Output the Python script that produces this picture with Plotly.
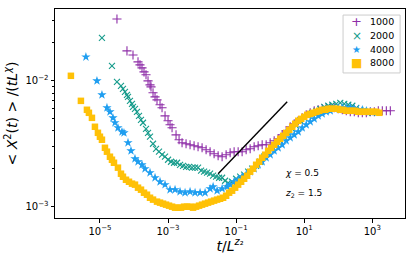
import numpy as np
import plotly.graph_objects as go

# ---- data (log10 of values) ----
logx_1000 = [-4.500, -4.206, -4.029, -3.882, -3.824, -3.765, -3.706, -3.647, -3.588, -3.529,
             -3.500, -3.441, -3.382, -3.324, -3.235, -3.176, -3.088, -3.000, -2.941, -2.882,
             -2.765, -2.676, -2.588, -2.471, -2.353, -2.235, -2.118, -2.000, -1.882, -1.765,
             -1.647, -1.529, -1.412, -1.294, -1.176, -1.059, -0.941, -0.824, -0.706, -0.588,
             -0.471, -0.353, -0.235, -0.118, 0.000, 0.118, 0.235, 0.353, 0.471, 0.588,
             0.706, 0.824, 0.941, 1.059, 1.176, 1.294, 1.412, 1.529, 1.647, 1.765,
             1.882, 2.000, 2.118, 2.235, 2.353, 2.471, 2.588, 2.706, 2.824, 2.941,
             3.059, 3.176, 3.294, 3.412, 3.529]
logy_1000 = [-1.508, -1.762, -1.794, -1.849, -1.873, -1.897, -1.929, -1.952, -2.000, -2.032,
             -2.048, -2.095, -2.127, -2.151, -2.190, -2.214, -2.278, -2.317, -2.349, -2.373,
             -2.429, -2.468, -2.492, -2.500, -2.508, -2.516, -2.524, -2.532, -2.548, -2.563,
             -2.579, -2.595, -2.603, -2.587, -2.571, -2.563, -2.563, -2.563, -2.548, -2.540,
             -2.524, -2.516, -2.508, -2.508, -2.492, -2.476, -2.460, -2.429, -2.397, -2.365,
             -2.341, -2.317, -2.294, -2.270, -2.254, -2.238, -2.230, -2.222, -2.214, -2.214,
             -2.214, -2.222, -2.230, -2.238, -2.246, -2.246, -2.254, -2.254, -2.254, -2.246,
             -2.246, -2.238, -2.238, -2.238, -2.238]

logx_2000 = [-4.941, -4.647, -4.500, -4.382, -4.324, -4.265, -4.206, -4.176, -4.118, -4.059,
             -4.029, -3.971, -3.912, -3.853, -3.794, -3.735, -3.647, -3.588, -3.529, -3.441,
             -3.353, -3.265, -3.176, -3.088, -3.000, -2.912, -2.824, -2.735, -2.647, -2.559,
             -2.471, -2.382, -2.294, -2.206, -2.118, -2.029, -1.941, -1.853, -1.765, -1.676,
             -1.588, -1.500, -1.412, -1.324, -1.235, -1.118, -1.000, -0.882, -0.765, -0.647,
             -0.529, -0.412, -0.294, -0.176, -0.059, 0.059, 0.176, 0.294, 0.412, 0.529,
             0.647, 0.765, 0.882, 1.000, 1.118, 1.235, 1.353, 1.471, 1.588, 1.706,
             1.824, 1.941, 2.059, 2.176, 2.294, 2.412, 2.529, 2.647, 2.765, 2.882, 3.000]
logy_2000 = [-1.659, -1.881, -2.008, -2.040, -2.063, -2.087, -2.111, -2.127, -2.159, -2.183,
             -2.206, -2.222, -2.246, -2.278, -2.310, -2.333, -2.381, -2.413, -2.444, -2.500,
             -2.540, -2.563, -2.587, -2.603, -2.627, -2.643, -2.651, -2.651, -2.667, -2.675,
             -2.683, -2.683, -2.690, -2.690, -2.690, -2.714, -2.722, -2.730, -2.738, -2.754,
             -2.762, -2.770, -2.770, -2.794, -2.810, -2.802, -2.778, -2.762, -2.746, -2.722,
             -2.698, -2.675, -2.643, -2.603, -2.571, -2.548, -2.516, -2.476, -2.444, -2.413,
             -2.381, -2.357, -2.317, -2.294, -2.278, -2.254, -2.238, -2.222, -2.206, -2.198,
             -2.190, -2.183, -2.175, -2.183, -2.190, -2.198, -2.214, -2.230, -2.238, -2.246, -2.254]

logx_4000 = [-5.412, -5.088, -4.941, -4.794, -4.706, -4.618, -4.559, -4.471, -4.353, -4.294,
             -4.176, -4.088, -3.971, -3.882, -3.765, -3.676, -3.529, -3.382, -3.235, -3.088,
             -2.941, -2.794, -2.647, -2.500, -2.353, -2.206, -2.059, -1.912, -1.765, -1.676,
             -1.559, -1.412, -1.265, -1.176, -1.059, -0.941, -0.824, -0.706, -0.588, -0.471,
             -0.353, -0.235, -0.118, 0.000, 0.118, 0.235, 0.353, 0.471, 0.588, 0.706,
             0.824, 0.941, 1.059, 1.176, 1.294, 1.412, 1.529, 1.647, 1.765, 1.882,
             2.000, 2.118, 2.235, 2.353, 2.471, 2.588, 2.706, 2.824, 2.941]
logy_4000 = [-1.810, -2.000, -2.111, -2.214, -2.246, -2.294, -2.333, -2.373, -2.405, -2.413,
             -2.492, -2.556, -2.619, -2.643, -2.667, -2.698, -2.730, -2.770, -2.802, -2.825,
             -2.865, -2.865, -2.881, -2.889, -2.881, -2.889, -2.889, -2.889, -2.857, -2.841,
             -2.873, -2.857, -2.841, -2.825, -2.802, -2.786, -2.762, -2.746, -2.722, -2.698,
             -2.667, -2.643, -2.611, -2.587, -2.556, -2.532, -2.508, -2.476, -2.452, -2.429,
             -2.405, -2.373, -2.349, -2.325, -2.302, -2.278, -2.262, -2.246, -2.238, -2.222,
             -2.214, -2.214, -2.214, -2.214, -2.222, -2.230, -2.230, -2.238, -2.246]

logx_8000 = [-5.853, -5.559, -5.382, -5.324, -5.235, -5.147, -5.059, -5.000, -4.941, -4.853,
             -4.794, -4.706, -4.647, -4.588, -4.471, -4.382, -4.324, -4.235, -4.147, -4.059,
             -3.971, -3.882, -3.794, -3.706, -3.618, -3.529, -3.441, -3.324, -3.235, -3.147,
             -3.059, -2.971, -2.882, -2.794, -2.706, -2.618, -2.529, -2.441, -2.353, -2.265,
             -2.176, -2.088, -2.000, -1.912, -1.824, -1.735, -1.647, -1.559, -1.471, -1.382,
             -1.294, -1.206, -1.118, -1.029, -0.941, -0.853, -0.765, -0.676, -0.588, -0.500,
             -0.412, -0.324, -0.235, -0.147, -0.059, 0.029, 0.118, 0.206, 0.294, 0.382,
             0.471, 0.559, 0.647, 0.735, 0.824, 0.912, 1.000, 1.088, 1.176, 1.265,
             1.353, 1.441, 1.529, 1.618, 1.706, 1.794, 1.882, 1.971, 2.059, 2.147,
             2.235, 2.324, 2.412, 2.500, 2.588, 2.676, 2.765, 2.853, 2.941, 3.029,
             3.118, 3.206]
logy_8000 = [-1.960, -2.159, -2.230, -2.254, -2.294, -2.365, -2.413, -2.444, -2.468, -2.532,
             -2.563, -2.603, -2.627, -2.651, -2.690, -2.738, -2.762, -2.786, -2.802, -2.817,
             -2.825, -2.849, -2.865, -2.889, -2.905, -2.929, -2.944, -2.960, -2.968, -2.976,
             -2.984, -2.992, -3.000, -3.008, -3.008, -3.008, -3.000, -3.000, -3.000, -3.008,
             -3.000, -2.992, -2.984, -2.976, -2.968, -2.960, -2.952, -2.944, -2.937, -2.929,
             -2.913, -2.889, -2.873, -2.849, -2.825, -2.802, -2.778, -2.754, -2.722, -2.698,
             -2.667, -2.643, -2.611, -2.587, -2.556, -2.532, -2.508, -2.484, -2.460, -2.437,
             -2.413, -2.389, -2.365, -2.341, -2.317, -2.302, -2.286, -2.270, -2.262, -2.254,
             -2.246, -2.238, -2.230, -2.230, -2.222, -2.222, -2.222, -2.222, -2.230, -2.230,
             -2.238, -2.238, -2.238, -2.238, -2.246, -2.246, -2.246, -2.246, -2.246, -2.246,
             -2.246, -2.254]

series_names = ["1000", "2000", "4000", "8000"]
series_logx = [logx_1000, logx_2000, logx_4000, logx_8000]
series_logy = [logy_1000, logy_2000, logy_4000, logy_8000]

guide_x = [0.0296, 3.16]
guide_y = [0.00183, 0.00681]

x_tickvals = [1e-5, 1e-3, 1e-1, 1e1, 1e3]
x_ticktext = ["10<sup>−5</sup>", "10<sup>−3</sup>", "10<sup>−1</sup>", "10<sup>1</sup>", "10<sup>3</sup>"]
y_tickvals = [1e-3, 1e-2]
y_ticktext = ["10<sup>−3</sup>", "10<sup>−2</sup>"]
y_minor = [2e-3, 3e-3, 4e-3, 5e-3, 6e-3, 7e-3, 8e-3, 9e-3, 2e-2, 3e-2]

# ---- styles ----
colors = ["#8e2ea8", "#179c8c", "#1f9ef0", "#ffc107"]
symbols = ["cross-thin", "x-thin", "star", "square"]
sizes = [6.5, 6, 7, 6.5]
legend_glyphs = ["+", "×", "★", "■"]
legend_glyph_sizes = [13, 12, 10, 12]

fig = go.Figure()
fig.update_layout(template=go.layout.Template())

for name, lx, ly, c, s, sz in zip(series_names, series_logx, series_logy, colors, symbols, sizes):
    n = min(len(lx), len(ly))
    marker = dict(symbol=s, size=sz, color=c)
    if s.endswith("-thin"):
        marker["line"] = dict(color=c, width=1.1)
    else:
        marker["line"] = dict(width=0)
    fig.add_trace(go.Scatter(
        x=np.power(10.0, np.array(lx[:n])),
        y=np.power(10.0, np.array(ly[:n])),
        mode="markers", name=name, marker=marker, showlegend=False,
    ))

fig.add_trace(go.Scatter(x=guide_x, y=guide_y, mode="lines",
                         line=dict(color="black", width=1.4), showlegend=False))

axis_common = dict(
    type="log", showgrid=False, zeroline=False, automargin=False,
    showline=True, mirror=True, linecolor="black", linewidth=1,
    ticks="outside", ticklen=3.5, tickwidth=0.8, tickcolor="black",
    tickfont=dict(size=10, color="black", family="DejaVu Sans"),
)

annotations = [
    dict(x=0.38, y=-2.73, xref="x", yref="y", text="<i>χ</i> = 0.5",
         showarrow=False, xanchor="left", yanchor="middle", font=dict(size=9)),
    dict(x=0.38, y=-2.897, xref="x", yref="y", text="<i>z</i><sub>2</sub> = 1.5",
         showarrow=False, xanchor="left", yanchor="middle", font=dict(size=9)),
]
legend_rows_y = [0.938, 0.871, 0.806, 0.742]
for name, c, g, gs, ry in zip(series_names, colors, legend_glyphs, legend_glyph_sizes, legend_rows_y):
    annotations.append(dict(x=0.862, y=ry, xref="paper", yref="paper", text=g,
                            showarrow=False, xanchor="center", yanchor="middle",
                            font=dict(size=gs, color=c)))
    annotations.append(dict(x=0.975, y=ry, xref="paper", yref="paper", text=name,
                            showarrow=False, xanchor="right", yanchor="middle",
                            font=dict(size=9.5, color="black")))

fig.update_layout(
    width=415, height=261,
    margin=dict(l=55, r=10, t=9, b=43),
    paper_bgcolor="white", plot_bgcolor="white",
    font=dict(family="DejaVu Sans", color="black"),
    showlegend=False,
    xaxis=dict(axis_common, range=[-6.32, 3.96], tickmode="array",
               tickvals=x_tickvals, ticktext=x_ticktext,
               title=dict(text="<i>t</i>/<i>L</i><sup><i>z</i>₂</sup>",
                          font=dict(size=14), standoff=0)),
    yaxis=dict(axis_common, range=[-3.09, -1.429], tickmode="array",
               tickvals=y_tickvals, ticktext=y_ticktext,
               minor=dict(ticks="outside", ticklen=2, tickwidth=0.6, tickcolor="black",
                          tickmode="array", tickvals=y_minor, showgrid=False),
               title=dict(text="&lt; <i>X</i><sup>2</sup>(<i>t</i>) &gt; /(<i>tL</i><sup><i>χ</i></sup>)",
                          font=dict(size=14), standoff=4)),
    shapes=[dict(type="rect", xref="paper", yref="paper", x0=0.823, x1=0.986, y0=0.694, y1=0.971,
                 line=dict(color="#cccccc", width=1), fillcolor="rgba(255,255,255,0.8)", layer="above")],
    annotations=annotations,
)

fig.write_html("out.html",
               config={"displayModeBar": False},
               post_script="document.body.style.margin='0';document.body.style.padding='0';")
